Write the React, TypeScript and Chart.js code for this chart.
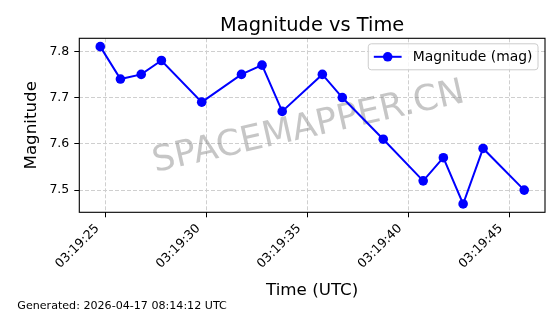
import React, { useEffect, useRef } from "react";
import { Chart, registerables } from "chart.js";

Chart.register(...registerables);

const TITLE = "Magnitude vs Time";
const X_LABEL = "Time (UTC)";
const Y_LABEL = "Magnitude";
const SERIES_LABEL = "Magnitude (mag)";
const FOOTNOTE = "Generated: 2026-04-17 08:14:12 UTC";
const WATERMARK = "SPACEMAPPER.CN";

// seconds after 03:19:00 UTC
const TIMES_S = [24.72, 25.72, 26.75, 27.75, 29.75, 31.72, 32.74, 33.74, 35.73, 36.72, 38.75, 40.73, 41.73, 42.71, 43.7, 45.74];
const MAGNITUDES = [7.81, 7.74, 7.75, 7.78, 7.69, 7.75, 7.77, 7.67, 7.75, 7.7, 7.61, 7.52, 7.57, 7.47, 7.59, 7.5];

const X_TICKS = [25, 30, 35, 40, 45];
const X_TICK_LABELS = ["03:19:25", "03:19:30", "03:19:35", "03:19:40", "03:19:45"];
const Y_TICKS = [7.5, 7.6, 7.7, 7.8];
const Y_TICK_LABELS = ["7.5", "7.6", "7.7", "7.8"];

const X_MIN = 23.68;
const X_MAX = 46.77;
const Y_MIN = 7.452;
const Y_MAX = 7.828;

const FONT = "'DejaVu Sans', sans-serif";
const BLUE = "#0000ff";
const GRID = "#cfcfcf";

const decor = {
  id: "decor",
  beforeDatasetsDraw(chart: any) {
    const { ctx, chartArea: ca } = chart;
    ctx.save();
    ctx.beginPath();
    ctx.rect(ca.left, ca.top, ca.right - ca.left, ca.bottom - ca.top);
    ctx.clip();
    ctx.translate((ca.left + ca.right) / 2 - 1.5, ca.top + 98.5);
    ctx.rotate((-12.8 * Math.PI) / 180);
    ctx.font = `35.5px ${FONT}`;
    ctx.fillStyle = "rgba(128,128,128,0.45)";
    ctx.textAlign = "center";
    ctx.textBaseline = "alphabetic";
    ctx.fillText(WATERMARK, 0, 0);
    ctx.restore();
  },
  afterDatasetsDraw(chart: any) {
    const { ctx, chartArea: ca } = chart;
    ctx.save();
    ctx.strokeStyle = "#000";
    ctx.lineWidth = 1.1;
    ctx.strokeRect(ca.left, ca.top, ca.right - ca.left, ca.bottom - ca.top);
    ctx.restore();
  },
  afterDraw(chart: any) {
    const { ctx, chartArea: ca } = chart;
    ctx.save();
    ctx.font = `19.4px ${FONT}`;
    ctx.fillStyle = "#000";
    ctx.textAlign = "center";
    ctx.textBaseline = "alphabetic";
    ctx.fillText(TITLE, (ca.left + ca.right) / 2, 30.7);

    ctx.font = `11.1px ${FONT}`;
    ctx.textAlign = "left";
    ctx.fillStyle = "#000";
    ctx.fillText(FOOTNOTE, 17.3, 309);

    const fs = 13.9;
    ctx.font = `${fs}px ${FONT}`;
    const label = chart.data.datasets[0].label as string;
    const tw = ctx.measureText(label).width;
    const pad = 0.4 * fs;
    const handle = 2 * fs;
    const gap = 0.8 * fs;
    const w = pad + handle + gap + tw + pad;
    const h = 26;
    const right = ca.right - 7;
    const left = right - w;
    const top = ca.top + 5.5;
    const r = 3;
    ctx.beginPath();
    ctx.moveTo(left + r, top);
    ctx.lineTo(right - r, top);
    ctx.arcTo(right, top, right, top + r, r);
    ctx.lineTo(right, top + h - r);
    ctx.arcTo(right, top + h, right - r, top + h, r);
    ctx.lineTo(left + r, top + h);
    ctx.arcTo(left, top + h, left, top + h - r, r);
    ctx.lineTo(left, top + r);
    ctx.arcTo(left, top, left + r, top, r);
    ctx.closePath();
    ctx.fillStyle = "rgba(255,255,255,0.8)";
    ctx.fill();
    ctx.strokeStyle = "#cccccc";
    ctx.lineWidth = 1;
    ctx.stroke();
    const cy = top + h / 2;
    const lx0 = left + pad;
    ctx.strokeStyle = BLUE;
    ctx.lineWidth = 2;
    ctx.beginPath();
    ctx.moveTo(lx0, cy);
    ctx.lineTo(lx0 + handle, cy);
    ctx.stroke();
    ctx.fillStyle = BLUE;
    ctx.beginPath();
    ctx.arc(lx0 + handle / 2, cy, 4.8, 0, Math.PI * 2);
    ctx.fill();
    ctx.fillStyle = "#000";
    ctx.textBaseline = "middle";
    ctx.fillText(label, lx0 + handle + gap, cy + 0.5);
    ctx.restore();
  },
};

export default function App() {
  const ref = useRef<HTMLCanvasElement | null>(null);
  useEffect(() => {
    if (!ref.current) return;
    const gridOpts = {
      color: GRID,
      lineWidth: 1,
      drawTicks: true,
      tickLength: 5,
      tickColor: "#000",
      tickWidth: 1,
      tickBorderDash: [],
    };
    const chart = new Chart(ref.current, {
      type: "line",
      data: {
        datasets: [
          {
            label: SERIES_LABEL,
            data: TIMES_S.map((t, i) => ({ x: t, y: MAGNITUDES[i] })),
            borderColor: BLUE,
            backgroundColor: BLUE,
            borderWidth: 2,
            pointRadius: 4.8,
            pointHoverRadius: 4.8,
            pointBorderWidth: 0,
            pointBackgroundColor: BLUE,
            tension: 0,
            fill: false,
          },
        ],
      },
      options: {
        responsive: false,
        animation: false,
        events: [],
        layout: { padding: { top: 38.3, right: 15, left: 0, bottom: 0 } },
        plugins: {
          legend: { display: false },
          title: { display: false },
          tooltip: { enabled: false },
        },
        scales: {
          x: {
            type: "linear",
            min: X_MIN,
            max: X_MAX,
            afterFit: (s: any) => {
              s.height = 101.7;
            },
            afterBuildTicks: (s: any) => {
              s.ticks = X_TICKS.map((v) => ({ value: v }));
            },
            border: { display: false, dash: [4, 2] },
            grid: gridOpts,
            ticks: {
              autoSkip: false,
              maxRotation: 45,
              minRotation: 45,
              padding: 4,
              labelOffset: -8.5,
              color: "#000",
              font: { family: FONT, size: 12.5 },
              callback: (v: any) => X_TICK_LABELS[X_TICKS.indexOf(Number(v))] ?? "",
            },
            title: {
              display: true,
              text: X_LABEL,
              color: "#000",
              font: { family: FONT, size: 16.7 },
              padding: { top: 0, bottom: 13.5 },
            },
          },
          y: {
            type: "linear",
            min: Y_MIN,
            max: Y_MAX,
            afterFit: (s: any) => {
              s.width = 79.3;
            },
            afterBuildTicks: (s: any) => {
              s.ticks = Y_TICKS.map((v) => ({ value: v }));
            },
            border: { display: false, dash: [4, 2] },
            grid: gridOpts,
            ticks: {
              padding: 5,
              color: "#000",
              font: { family: FONT, size: 12.5 },
              callback: (v: any) => Y_TICK_LABELS[Y_TICKS.indexOf(Number(v))] ?? "",
            },
            title: {
              display: true,
              text: Y_LABEL,
              color: "#000",
              font: { family: FONT, size: 16.7 },
              padding: { top: 22, bottom: 0 },
            },
          },
        },
      },
      plugins: [decor],
    });
    return () => chart.destroy();
  }, []);
  return (
    <div style={{ position: "fixed", left: 0, top: 0, width: 560, height: 314, background: "#fff" }}>
      <canvas ref={ref} width={560} height={314} style={{ display: "block" }} />
    </div>
  );
}
